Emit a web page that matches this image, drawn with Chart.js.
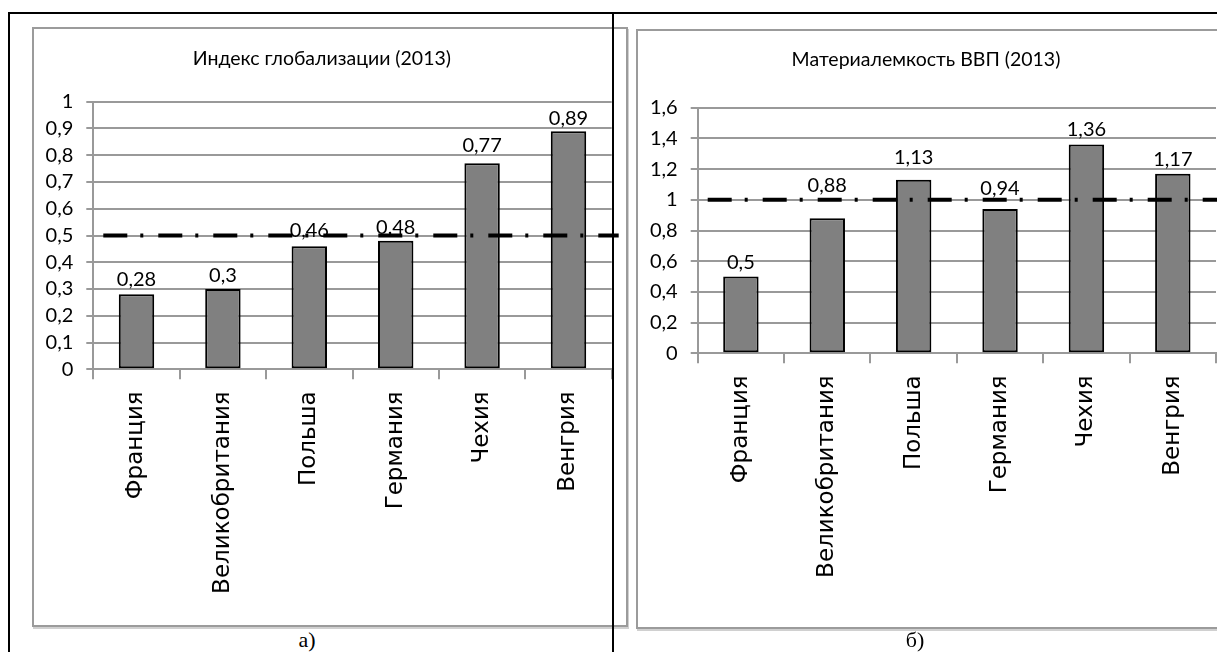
<!DOCTYPE html>
<html>
<head>
<meta charset="utf-8">
<script src="https://cdn.jsdelivr.net/npm/chart.js@4.4.1/dist/chart.umd.min.js"></script>
<style>
  html, body { margin: 0; padding: 0; background: #fff; }
  body { width: 1217px; height: 652px; overflow: hidden; position: relative; }
  .rule { position: absolute; background: #000; z-index: 5; }
  .frame { position: absolute; box-sizing: border-box; border: 2px solid #9b9b9b; box-shadow: 1px 2px 0 #d0d0d0; background: #fff; z-index: 1; }
  canvas { position: absolute; z-index: 2; }
  .cap { position: absolute; top: 627px; width: 60px; margin-left: -30px; text-align: center;
         font-family: 'Liberation Serif', 'DejaVu Serif', serif; font-size: 22px; line-height: 26px; color: #000; z-index: 6; }
</style>
</head>
<body>
<div class="rule" style="left:8px;top:12px;width:1209px;height:2px"></div>
<div class="rule" style="left:8px;top:12px;width:2px;height:640px"></div>

<div class="frame" style="left:32px;top:27px;width:596px;height:600px"></div>
<canvas id="chartA" width="595" height="600" style="left:32px;top:27px"></canvas>

<div class="frame" style="left:636px;top:29px;width:595px;height:600px"></div>
<canvas id="chartB" width="595" height="600" style="left:636px;top:29px"></canvas>

<div class="rule" style="left:612px;top:12px;width:2px;height:640px"></div>

<div class="cap" style="left:307px">а)</div>
<div class="cap" style="left:915px">б)</div>

<script>
// Countries shown on both charts
const countries = ['Франция', 'Великобритания', 'Польша', 'Германия', 'Чехия', 'Венгрия'];

// Globalization index, 2013
const globalizationIndex = [0.28, 0.3, 0.46, 0.48, 0.77, 0.89];
const globalizationAxis = [0, 1, 0.1];        // min, max, step
const globalizationLevel = 0.5;               // reference level (dash-dot line)

// Material intensity of GDP, 2013
const materialIntensity = [0.5, 0.88, 1.13, 0.94, 1.36, 1.17];
const materialAxis = [0, 1.6, 0.2];           // min, max, step
const materialLevel = 1;                      // reference level (dash-dot line)

const NUMFONT = "Lato, 'Liberation Sans', sans-serif";
const WIDE = "'DejaVu Sans', Verdana, sans-serif";
const GRID = '#999999';

const comma = v => String(parseFloat(Number(v).toFixed(2))).replace('.', ',');

// Value labels above the bars; gap = distance from bar top to the digits' baseline
const valueLabels = {
  id: 'valueLabels',
  afterDatasetsDraw(chart, args, opts) {
    const ctx = chart.ctx;
    const meta = chart.getDatasetMeta(0);
    ctx.save();
    ctx.font = '20px ' + NUMFONT;
    ctx.fillStyle = '#000';
    ctx.textAlign = 'center';
    ctx.textBaseline = 'alphabetic';
    meta.data.forEach((bar, i) => {
      const v = chart.data.datasets[0].data[i];
      const gap = (opts.gaps && opts.gaps[i] != null) ? opts.gaps[i] : 8;
      ctx.fillText(comma(v), bar.x, bar.y - gap);
    });
    ctx.restore();
  }
};

// Horizontal dash-dot reference line
const levelLine = {
  id: 'levelLine',
  afterDraw(chart, args, opts) {
    const { ctx, chartArea } = chart;
    const y = chart.scales.y.getPixelForValue(opts.value);
    ctx.save();
    ctx.strokeStyle = '#000';
    ctx.lineWidth = 4;
    ctx.setLineDash([24, 13, 3, 15]);
    ctx.beginPath();
    ctx.moveTo(chartArea.left + opts.startOffset, y);
    ctx.lineTo(chartArea.right + opts.endOffset, y);
    ctx.stroke();
    ctx.restore();
  }
};

function buildChart(canvasId, title, values, axis, level, gaps, area) {
  const canvas = document.getElementById(canvasId);
  return new Chart(canvas, {
    type: 'bar',
    data: {
      labels: countries,
      datasets: [{
        data: values,
        backgroundColor: '#808080',
        borderColor: '#000',
        borderWidth: 2,
        borderSkipped: false,
        barPercentage: 0.41,
        categoryPercentage: 1
      }]
    },
    options: {
      responsive: false,
      animation: false,
      devicePixelRatio: 1,
      layout: { padding: { left: 0, right: canvas.width - area.right, top: 0, bottom: 0 } },
      plugins: {
        legend: { display: false },
        tooltip: { enabled: false },
        title: {
          display: true,
          text: title,
          color: '#000',
          font: { family: NUMFONT, size: 19.5, weight: 'normal', lineHeight: 1.2 },
          padding: { top: area.titleY - 11.7, bottom: area.top - area.titleY - 11.7 }
        },
        valueLabels: { gaps: gaps },
        levelLine: { value: level, startOffset: 10, endOffset: 7 }
      },
      scales: {
        x: {
          grid: { display: true, drawOnChartArea: false, drawTicks: true, tickLength: 10, color: GRID, lineWidth: 2, offset: true },
          border: { display: true, color: GRID, width: 2 },
          ticks: { color: '#000', font: { family: WIDE, size: 23 }, minRotation: 90, maxRotation: 90, autoSkip: false, padding: 12 },
          afterFit(scale) { scale.height = canvas.height - area.bottom; }
        },
        y: {
          min: axis[0], max: axis[1],
          grid: { color: GRID, lineWidth: 2, tickLength: 7, drawTicks: true },
          border: { display: true, color: GRID, width: 2 },
          ticks: { stepSize: axis[2], autoSkip: false, color: '#000', font: { family: NUMFONT, size: 20 }, padding: 13,
                   callback: v => comma(v) },
          afterFit(scale) { scale.width = area.left; }
        }
      }
    },
    plugins: [valueLabels, levelLine]
  });
}

buildChart('chartA', 'Индекс глобализации (2013)', globalizationIndex, globalizationAxis, globalizationLevel,
  [8, 7, 9, 7, 11, 6],
  { left: 61.3, right: 579.7, top: 74.7, bottom: 342.3, titleY: 32 });

buildChart('chartB', 'Материалемкость ВВП (2013)', materialIntensity, materialAxis, materialLevel,
  [8, 26, 16, 14, 8.5, 8],
  { left: 61.7, right: 580, top: 78.7, bottom: 324.3, titleY: 31 });
</script>
</body>
</html>
